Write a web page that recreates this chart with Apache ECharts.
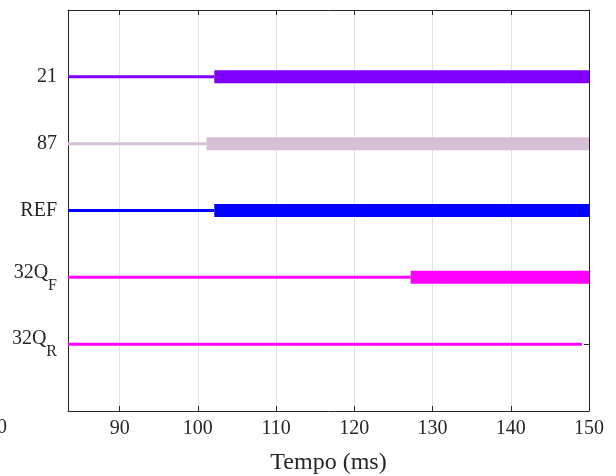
<!DOCTYPE html>
<html>
<head>
<meta charset="utf-8">
<script src="https://cdn.jsdelivr.net/npm/echarts@6/dist/echarts.min.js"></script>
<style>html,body{margin:0;padding:0;background:#fff}#c{width:616px;height:476px}</style>
</head>
<body>
<div id="c"></div>
<script>
// ---- data ----
var signals = ['21', '87', 'REF', '32QF', '32QR'];
var rowPos = [5, 4, 3, 2, 1];
var colors = ['#8000FF', '#D8BFD8', '#0000FF', '#FF00FF', '#FF00FF'];
var lineStart = [83.4, 83.4, 83.4, 83.4, 83.4];
var onset = [102.1, 101.1, 102.1, 127.2, null];
var lineEnd = [150, 150, 150, 150, 149.1];
var xTicks = [90, 100, 110, 120, 130, 140, 150];
var xMin = 83.4, xMax = 150;
var yLabels = {1: '{b|32Q}{s|R}', 2: '{b|32Q}{s|F}', 3: '{a|REF}', 4: '{a|87}', 5: '{a|21}'};

var FONT = 'Liberation Serif';
var series = [];
for (var i = 0; i < signals.length; i++) {
  var y = rowPos[i];
  var thinEnd = onset[i] != null ? onset[i] : lineEnd[i];
  series.push({
    type: 'line', name: signals[i] + '_off', symbol: 'none', silent: true,
    data: [[lineStart[i], y], [thinEnd, y]],
    lineStyle: {color: colors[i], width: 3, cap: 'butt'}, z: 3
  });
  if (onset[i] != null) {
    series.push({
      type: 'line', name: signals[i] + '_on', symbol: 'none', silent: true,
      data: [[onset[i], y], [lineEnd[i], y]],
      lineStyle: {color: colors[i], width: 13, cap: 'butt'}, z: 4
    });
  }
}

var tickCommon = {inside: true, length: 5, lineStyle: {color: '#262626'}};
var chart = echarts.init(document.getElementById('c'), null, {renderer: 'canvas'});
chart.setOption({
  animation: false,
  backgroundColor: '#fff',
  grid: {left: 68, right: 27, top: 10, bottom: 65, containLabel: false, outerBoundsMode: 'none'},
  xAxis: [{
    type: 'value', min: xMin, max: xMax, position: 'bottom',
    name: 'Tempo (ms)', nameLocation: 'middle', nameGap: 40,
    nameTextStyle: {fontFamily: FONT, fontSize: 24, color: '#262626'},
    axisLine: {show: true, onZero: false, lineStyle: {color: '#262626', width: 1}},
    axisTick: Object.assign({show: true, customValues: xTicks}, tickCommon),
    axisLabel: {customValues: xTicks, fontFamily: FONT, fontSize: 20, color: '#262626', margin: 8},
    splitLine: {show: true, lineStyle: {color: '#e2e2e2', width: 1}}
  }, {
    type: 'value', min: xMin, max: xMax, position: 'top',
    axisLine: {show: true, onZero: false, lineStyle: {color: '#262626', width: 1}},
    axisTick: Object.assign({show: true, customValues: xTicks}, tickCommon),
    axisLabel: {show: false}, splitLine: {show: false}
  }],
  yAxis: [{
    type: 'value', min: 0, max: 6, position: 'left',
    axisLine: {show: true, onZero: false, lineStyle: {color: '#262626', width: 1}},
    axisTick: Object.assign({show: true, customValues: rowPos}, tickCommon),
    axisLabel: {
      customValues: rowPos, margin: 11,
      formatter: function (v) { return yLabels[v] || ''; },
      rich: {
        a: {fontFamily: FONT, fontSize: 20, color: '#262626'},
        b: {fontFamily: FONT, fontSize: 20, color: '#262626', padding: [0, 0, 10, 0]},
        s: {fontFamily: FONT, fontSize: 16, color: '#262626', padding: [16, 0, 0, 0]}
      }
    },
    splitLine: {show: false}
  }, {
    type: 'value', min: 0, max: 6, position: 'right',
    axisLine: {show: true, onZero: false, lineStyle: {color: '#262626', width: 1}},
    axisTick: Object.assign({show: true, customValues: rowPos}, tickCommon),
    axisLabel: {show: false}, splitLine: {show: false}
  }],
  graphic: [{
    type: 'text', left: -13, top: 418,
    style: {text: '80', font: '20px "Liberation Serif"', fill: '#262626'}
  }],
  series: series
});
</script>
</body>
</html>
